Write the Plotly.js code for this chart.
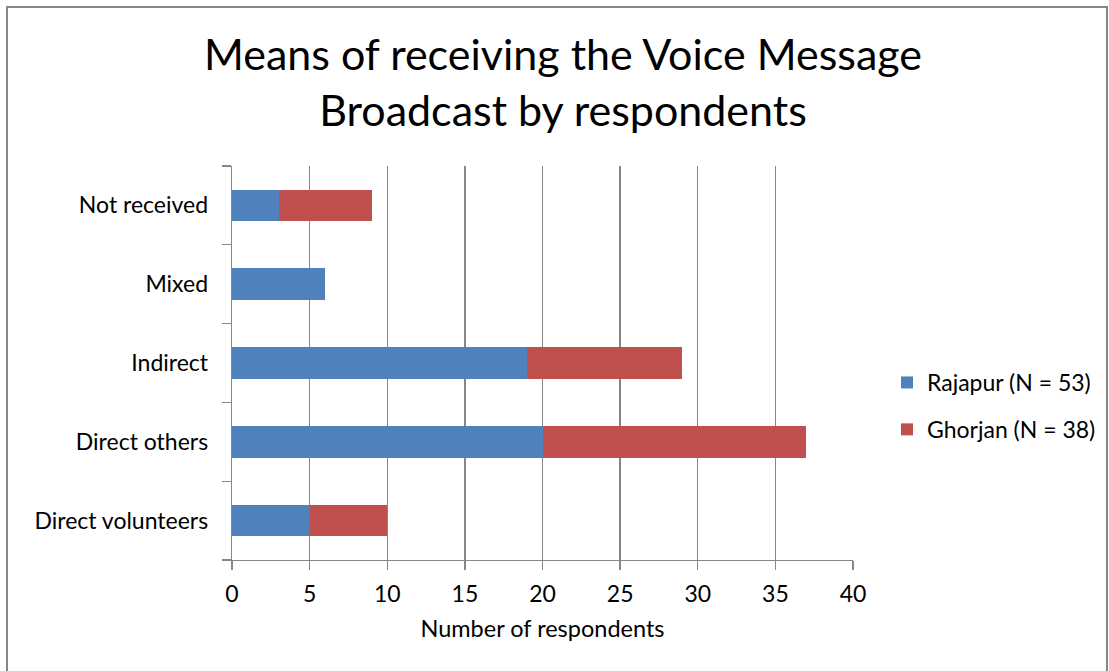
<!DOCTYPE html>
<html>
<head>
<meta charset="utf-8">
<script src="https://cdn.plot.ly/plotly-3.0.1.min.js"></script>
<style>
html,body{margin:0;padding:0;background:#fff;}
#chart{width:1109px;height:671px;}
</style>
</head>
<body>
<div id="chart"></div>
<script>
const categories = ["Direct volunteers", "Direct others", "Indirect", "Mixed", "Not received"];
const rajapur = [5, 20, 19, 6, 3];
const ghorjan = [5, 17, 10, 0, 6];
const seriesNames = ["Rajapur (N = 53)", "Ghorjan (N = 38)"];
const xTicks = [0, 5, 10, 15, 20, 25, 30, 35, 40];

const W = 1109, H = 671;
const L = 232, R = 256, T = 166, B = 111;
const pw = W - L - R, ph = H - T - B;
function px2x(p){ return (p - L) / pw; }
function py2y(p){ return (H - B - p) / ph; }

const font = "Lato, 'Open Sans', sans-serif";

const traces = [
  {type:"bar", orientation:"h", name:seriesNames[0], y:categories, x:rajapur,
   legendgroup:"a", marker:{color:"#4F81BD"}},
  {type:"bar", orientation:"h", name:seriesNames[1], y:categories, x:ghorjan,
   legendgroup:"b", marker:{color:"#C0504D"}}
];

const layout = {
  width:W, height:H,
  margin:{l:L, r:R, t:T, b:B, pad:0, autoexpand:false},
  paper_bgcolor:"#fff", plot_bgcolor:"#fff",
  barmode:"stack", bargap:0.6,
  font:{family:font, color:"#000", size:23},
  title:{text:"Means of receiving the Voice Message<br>Broadcast by respondents",
         x:563/W, xanchor:"center", y:1-70/H, yanchor:"top",
         font:{family:font, size:43, color:"#000"}},
  xaxis:{range:[0,40], tickvals:xTicks, ticktext:xTicks.map(String),
         showgrid:true, gridcolor:"#868686", gridwidth:1.3,
         showline:true, linecolor:"#868686", linewidth:1.3,
         ticks:"outside", ticklen:9, tickcolor:"#868686", tickwidth:1.3,
         zeroline:false, fixedrange:true, ticklabelstandoff:4,
         tickfont:{size:23},
         title:{text:"Number of respondents", font:{size:23.5}, standoff:14}},
  yaxis:{showgrid:false, showline:true, linecolor:"#868686", linewidth:1.3,
         ticks:"outside", ticklen:9, tickcolor:"#868686", tickwidth:1.3,
         tickson:"boundaries", ticklabelstandoff:18,
         tickfont:{size:23}, fixedrange:true, automargin:false},
  legend:{xref:"container", yref:"container", x:887/W, xanchor:"left",
          y:1-406/H, yanchor:"middle",
          font:{size:23}, traceorder:"grouped", itemwidth:30, tracegroupgap:14,
          bgcolor:"rgba(0,0,0,0)"},
  showlegend:true,
  shapes:[
    {type:"rect", xref:"paper", yref:"paper",
     x0:px2x(7), x1:px2x(1107), y0:py2y(700), y1:py2y(7),
     line:{color:"#868686", width:2}, fillcolor:"rgba(0,0,0,0)", layer:"below"}
  ]
};

Plotly.newPlot("chart", traces, layout, {displayModeBar:false, staticPlot:true});
</script>
</body>
</html>
